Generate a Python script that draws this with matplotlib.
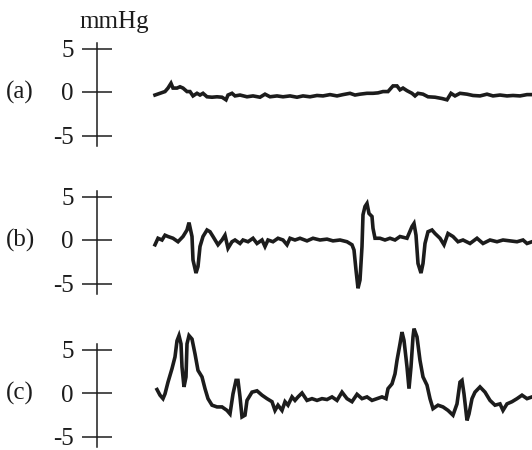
import numpy as np
import matplotlib.pyplot as plt

# ---- data (time in samples, pressure in mmHg) ----
t_a = [155, 160, 165, 168, 171, 173, 177, 180, 183, 187, 190, 193, 197, 200, 203,
       207, 212, 217, 222, 226, 228, 232, 235, 240, 247, 253, 260, 265, 270, 277,
       283, 290, 297, 303, 310, 317, 323, 330, 337, 343, 350, 355, 360, 367, 373,
       378, 383, 388, 393, 397, 400, 403, 407, 412, 415, 418, 423, 428, 435, 442,
       447, 451, 455, 460, 467, 473, 480, 487, 493, 500, 507, 513, 520, 527, 532]
p_a = [-0.35, -0.15, 0.05, 0.45, 1.0, 0.45, 0.45, 0.6, 0.45, 0.05, 0.05, -0.45, -0.15, -0.35, -0.15,
       -0.55, -0.6, -0.55, -0.6, -0.9, -0.35, -0.15, -0.45, -0.35, -0.55, -0.45, -0.6, -0.25, -0.55, -0.45,
       -0.55, -0.45, -0.6, -0.45, -0.55, -0.4, -0.45, -0.3, -0.45, -0.3, -0.15, -0.35, -0.25, -0.15, -0.15,
       -0.1, 0.05, 0.05, 0.7, 0.7, 0.25, 0.45, 0.15, -0.15, -0.45, -0.15, -0.25, -0.55, -0.6, -0.75,
       -0.9, -0.15, -0.45, -0.15, -0.25, -0.4, -0.45, -0.25, -0.45, -0.35, -0.45, -0.4, -0.45, -0.3, -0.3]

t_b = [155, 158, 162, 165, 168, 173, 178, 183, 187, 189, 192, 193, 196, 198, 200,
       203, 207, 210, 213, 218, 222, 225, 228, 232, 235, 240, 243, 248, 253, 257,
       262, 265, 268, 273, 278, 283, 287, 290, 295, 300, 307, 313, 320, 327, 333,
       340, 347, 352, 354, 356, 358, 360, 362, 363, 365, 367, 369, 372, 373, 375,
       380, 385, 390, 395, 400, 407, 412, 414, 416, 418, 421, 423, 425, 428, 432,
       435, 440, 444, 448, 453, 458, 463, 470, 477, 483, 490, 497, 503, 510, 517,
       523, 527, 532]
p_b = [-0.55, 0.2, 0.0, 0.55, 0.4, 0.2, -0.2, 0.4, 1.15, 2.0, 0.4, -2.3, -3.8, -3.05, -0.75,
       0.4, 1.15, 0.95, 0.4, -0.55, 0.0, 0.55, -0.95, -0.2, 0.0, -0.4, 0.0, -0.2, 0.2, -0.4,
       0.0, -0.75, 0.0, -0.2, 0.2, 0.0, -0.55, 0.2, 0.0, 0.2, -0.1, 0.2, 0.0, 0.1, -0.1,
       0.0, -0.2, -0.55, -1.15, -3.45, -5.55, -4.6, -0.75, 2.9, 3.85, 4.2, 3.05, 2.7, 1.35, 0.2,
       0.2, 0.0, 0.2, 0.0, 0.4, 0.2, 1.55, 1.9, 0.55, -2.7, -3.8, -2.7, -0.4, 0.95, 1.15,
       0.75, 0.2, -0.55, 0.75, 0.4, -0.2, 0.0, -0.4, 0.2, -0.4, 0.0, -0.2, 0.0, -0.1, -0.2,
       0.0, -0.4, -0.2]

t_c = [157, 160, 163, 165, 168, 172, 175, 177, 179, 181, 182, 184, 186, 187, 189,
       192, 195, 198, 202, 205, 208, 212, 217, 222, 227, 230, 233, 236, 238, 240,
       242, 245, 247, 252, 257, 262, 267, 272, 275, 278, 282, 285, 288, 292, 295,
       298, 302, 307, 312, 317, 322, 327, 332, 337, 342, 347, 352, 357, 362, 367,
       372, 377, 382, 386, 388, 392, 395, 397, 400, 402, 404, 407, 409, 411, 413,
       414, 417, 420, 423, 427, 430, 433, 438, 443, 448, 453, 457, 460, 462, 464,
       467, 469, 472, 475, 480, 485, 490, 495, 500, 503, 507, 512, 517, 522, 527,
       532]
p_c = [0.4, -0.25, -0.65, -0.1, 1.25, 2.8, 4.15, 6.0, 6.6, 5.65, 3.0, 0.7, 1.85, 5.65, 6.6,
       6.2, 4.5, 2.6, 1.85, 0.5, -0.65, -1.4, -1.6, -1.6, -2.0, -2.4, -0.1, 1.45, 1.45, -0.45,
       -2.75, -2.55, -0.85, 0.1, 0.25, -0.25, -0.65, -1.0, -2.0, -1.4, -2.0, -1.0, -1.4, -0.45, -0.85,
       -0.45, 0.0, -0.85, -0.65, -0.85, -0.65, -0.75, -0.45, -0.85, 0.1, -0.65, -1.0, -0.15, -0.65, -0.45,
       -0.85, -0.65, -0.45, -0.65, 0.5, 1.05, 2.2, 3.75, 5.65, 7.0, 6.05, 3.0, 0.5, 3.0, 6.45,
       7.4, 6.45, 3.75, 1.85, 0.9, -0.65, -1.8, -1.4, -1.6, -2.0, -2.55, -1.25, 1.25, 1.45, -0.1,
       -3.15, -2.4, -0.65, 0.1, 0.7, 0.1, -0.85, -1.4, -1.25, -2.0, -1.25, -1.0, -0.65, -0.25, -0.65,
       -0.45]

labels = ['(a)', '(b)', '(c)']
zero_px = [92, 240, 393]      # where 0 mmHg sits in each panel
yticks = [5, 0, -5]
ytick_labels = ['5', '0', '-5']

# ---- figure ----
W, H = 532, 450
fig = plt.figure(figsize=(W / 100, H / 100), dpi=100)
plt.rcParams['font.family'] = ['Liberation Serif', 'DejaVu Serif']

px_per_unit = 8.7
axis_x = 97
ink = '#1c1c1c'
fs = 18

series = [(t_a, p_a), (t_b, p_b), (t_c, p_c)]
for i, (t, p) in enumerate(series):
    y0 = zero_px[i]
    top_px = y0 - 70
    bot_px = min(y0 + 70, H)
    ax = fig.add_axes([axis_x / W, 1 - bot_px / H, (W - axis_x) / W, (bot_px - top_px) / H])
    ax.set_xlim(axis_x, W)
    ax.set_ylim(-(bot_px - y0) / px_per_unit, (y0 - top_px) / px_per_unit)
    ax.patch.set_visible(False)

    for s in ['top', 'right', 'bottom']:
        ax.spines[s].set_visible(False)
    ax.spines['left'].set_bounds(-6.2, 5.65)
    ax.spines['left'].set_linewidth(1.1)
    ax.spines['left'].set_color(ink)

    ax.set_xticks([])
    ax.set_yticks(yticks)
    ax.set_yticklabels(ytick_labels)
    ax.tick_params(axis='y', direction='inout', length=21.5, width=1.1,
                   color=ink, labelcolor=ink, labelsize=fs, pad=6)

    ax.plot(t, p, color=ink, lw=2.6, solid_joinstyle='miter', clip_on=False)

    fig.text(6 / W, 1 - y0 / H, labels[i], fontsize=fs, color=ink,
             ha='left', va='center')

fig.text(114 / W, 1 - 28 / H, 'mmHg', fontsize=fs, color=ink,
         ha='center', va='baseline')

fig.savefig('out.png', dpi=100)
